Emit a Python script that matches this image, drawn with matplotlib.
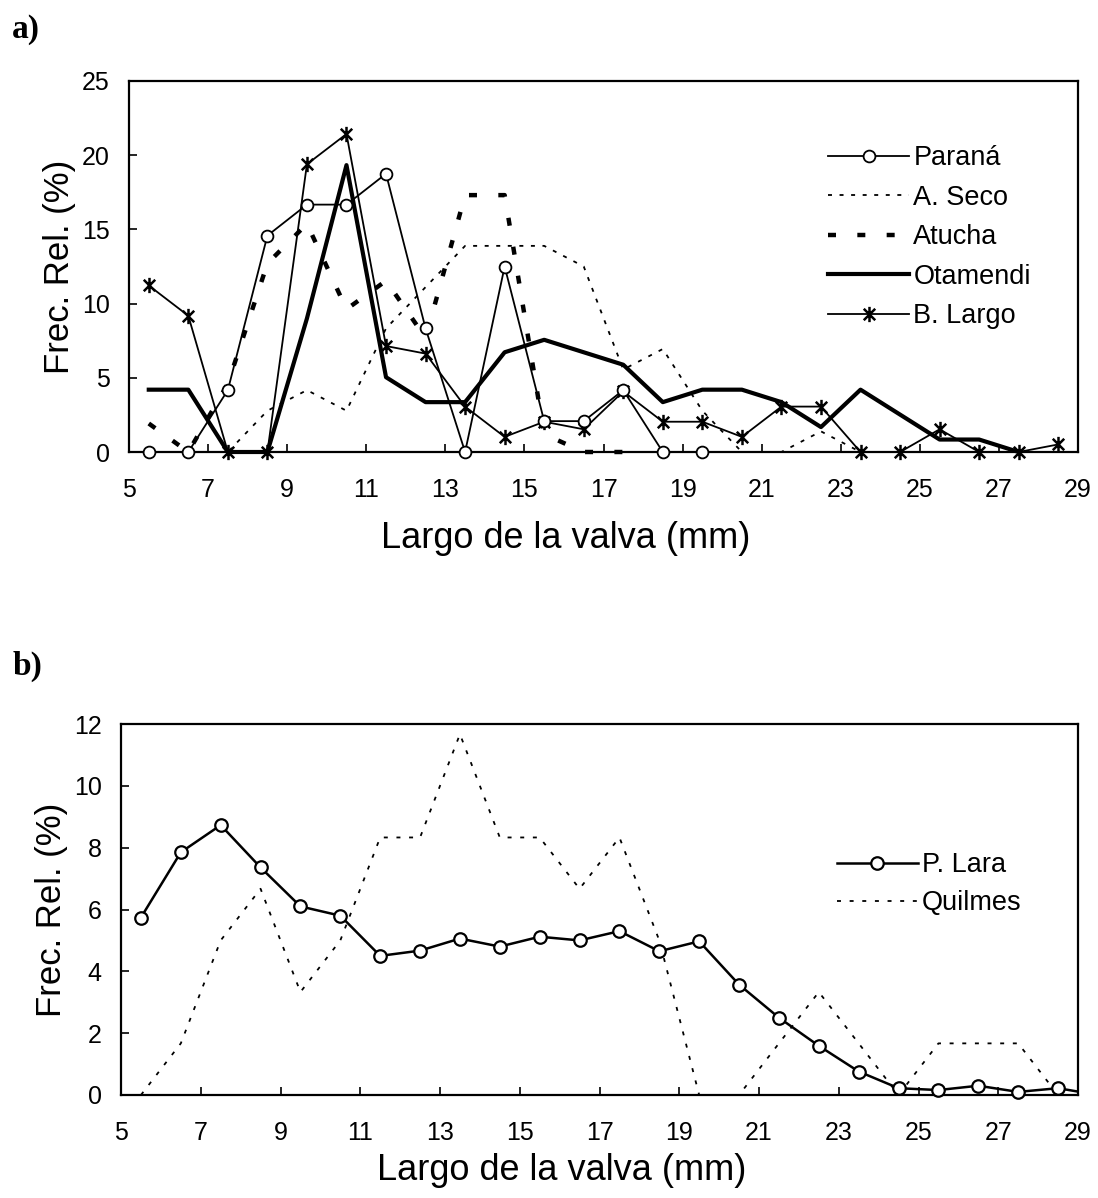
import matplotlib
matplotlib.use("Agg")
import matplotlib.pyplot as plt
from matplotlib.lines import Line2D
from matplotlib.path import Path

# valve length classes (mm, class midpoints)
largo = [5.5, 6.5, 7.5, 8.5, 9.5, 10.5, 11.5, 12.5, 13.5, 14.5, 15.5, 16.5,
         17.5, 18.5, 19.5, 20.5, 21.5, 22.5, 23.5, 24.5, 25.5, 26.5, 27.5, 28.5, 29.5]

# a) relative frequencies (%)
parana = [0, 0, 4.17, 14.58, 16.67, 16.67, 18.75, 8.33, 0, 12.5, 2.08, 2.08,
          4.17, 0, 0]
a_seco = [0, 0, 0, 2.78, 4.17, 2.78, 8.33, 11.11, 13.89, 13.89, 13.89, 12.5,
          5.56, 6.94, 2.78, 0, 0, 1.39, 0]
atucha = [1.92, 0, 4.6, 12.7, 15.38, 9.62, 11.54, 7.69, 17.31, 17.31, 1.2, 0, 0]
otamendi = [4.2, 4.2, 0, 0, 9.0, 19.33, 5.04, 3.36, 3.36, 6.72, 7.56, 6.72,
            5.88, 3.36, 4.2, 4.2, 3.36, 1.68, 4.2, 2.52, 0.84, 0.84, 0]
b_largo = [11.22, 9.18, 0, 0, 19.39, 21.43, 7.14, 6.63, 3.06, 1.02, 2.04, 1.53,
           4.08, 2.04, 2.04, 1.02, 3.06, 3.06, 0, 0, 1.53, 0, 0, 0.51]

# b) relative frequencies (%)
p_lara = [5.74, 7.85, 8.73, 7.36, 6.1, 5.8, 4.5, 4.67, 5.06, 4.8, 5.12, 5.0,
          5.3, 4.65, 4.97, 3.57, 2.5, 1.59, 0.76, 0.22, 0.16, 0.3, 0.1, 0.22, 0]
quilmes = [0, 1.67, 5.0, 6.67, 3.33, 5.0, 8.33, 8.33, 11.67, 8.33, 8.33, 6.67,
           8.33, 5.0, 0, 0, 1.67, 3.33, 1.67, 0, 1.67, 1.67, 1.67, 0]

x_ticks = [5, 7, 9, 11, 13, 15, 17, 19, 21, 23, 25, 27, 29]

plt.rcParams["font.family"] = ["Liberation Sans", "DejaVu Sans"]

# asterisk: vertical bar plus an x
star = Path([(0, -1), (0, 1), (-0.75, -0.75), (0.75, 0.75), (-0.75, 0.75), (0.75, -0.75)],
            [Path.MOVETO, Path.LINETO, Path.MOVETO, Path.LINETO, Path.MOVETO, Path.LINETO])

fig = plt.figure(figsize=(10.98, 11.98), dpi=100)
ax_a = fig.add_axes([129 / 1098, 1 - 452 / 1198, 949 / 1098, 371 / 1198])
ax_b = fig.add_axes([121 / 1098, 1 - 1095 / 1198, 957 / 1098, 371 / 1198])


def style_axes(ax, ymax, ystep, xlabel_y):
    ax.set_xlim(5, 29)
    ax.set_ylim(0, ymax)
    ax.set_xticks(x_ticks)
    ax.set_yticks(range(0, ymax + 1, ystep))
    ax.tick_params(axis="both", direction="in", length=6, width=1.2, labelsize=18)
    ax.tick_params(axis="x", pad=19)
    ax.tick_params(axis="y", pad=14)
    for sp in ax.spines.values():
        sp.set_linewidth(1.6)
    ax.set_xlabel("Largo de la valva (mm)", fontsize=26)
    ax.xaxis.set_label_coords(0.46, xlabel_y)
    ax.set_ylabel("Frec. Rel. (%)", fontsize=25, labelpad=4)


style_axes(ax_a, 25, 5, -0.185)
style_axes(ax_b, 12, 2, -0.155)

# panel a
ax_a.plot(largo[:len(parana)], parana, color="black", lw=1.3, marker="o", ms=8.5,
          mfc="white", mec="black", mew=1.3, label="Paraná", clip_on=False, zorder=6)
ax_a.plot(largo[:len(a_seco)], a_seco, color="black", lw=1.3, dashes=(2.2, 4.2),
          label="A. Seco", clip_on=False, zorder=2)
ax_a.plot(largo[:len(atucha)], atucha, color="black", lw=3.2, dashes=(1.8, 4.8),
          label="Atucha", clip_on=False, zorder=3)
ax_a.plot(largo[:len(otamendi)], otamendi, color="black", lw=3.0,
          label="Otamendi", clip_on=False, zorder=4)
ax_a.plot(largo[:len(b_largo)], b_largo, color="black", lw=1.3, marker=star, ms=11,
          mec="black", mew=1.8, label="B. Largo", clip_on=False, zorder=5)

ax_a.legend(loc="upper left", bbox_to_anchor=(0.7366, 0.8275), frameon=False,
            fontsize=19.5, handlelength=3.0, handletextpad=0.15, labelspacing=0.5,
            borderpad=0, borderaxespad=0)

# panel b: line clipped at the frame, markers drawn separately so they are not cut
lara_style = dict(color="black", lw=1.8, marker="o", ms=9, mfc="white",
                  mec="black", mew=1.6)
ax_b.plot(largo, p_lara, color="black", lw=1.8, zorder=4)
ax_b.plot(largo[:-1], p_lara[:-1], ls="none", marker="o", ms=9, mfc="white",
          mec="black", mew=1.6, clip_on=False, zorder=5)
q_line, = ax_b.plot(largo[:len(quilmes)], quilmes, color="black", lw=1.3,
                    dashes=(2.2, 4.8), zorder=3)
ax_b.legend([Line2D([], [], **lara_style), q_line], ["P. Lara", "Quilmes"],
            loc="upper left", bbox_to_anchor=(0.748, 0.655), frameon=False,
            fontsize=19.5, handlelength=3.0, handletextpad=0.15,
            labelspacing=0.46, borderpad=0, borderaxespad=0)

for tag, y in (("a)", 0.975), ("b)", 0.444)):
    fig.text(0.011, y, tag, fontsize=24, fontweight="bold",
             family=["Liberation Serif", "DejaVu Serif"], va="center", ha="left")

fig.savefig("out.png", dpi=100)
